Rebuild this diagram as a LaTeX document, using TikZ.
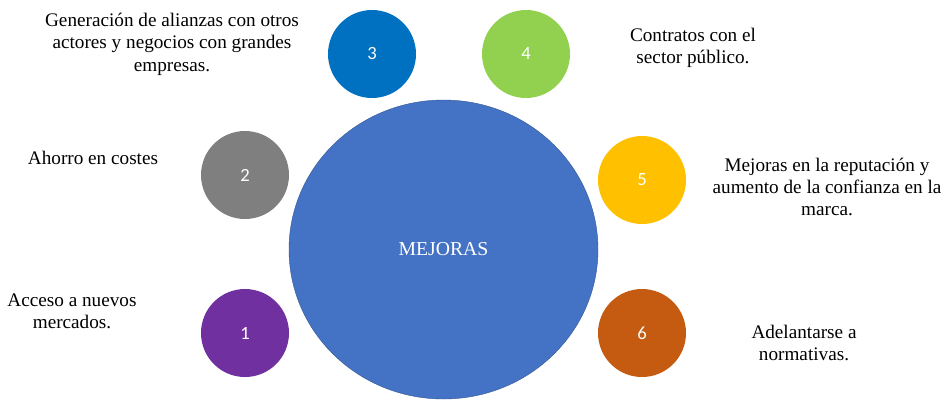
\documentclass[tikz,border=0pt]{standalone}
\usepackage{fontspec}
\setmainfont{Liberation Serif}
\newfontfamily\numfont{Carlito}
\usetikzlibrary{shapes.geometric}
\definecolor{mejblue}{HTML}{4472C4}
\definecolor{cpurple}{HTML}{7030A0}
\definecolor{cgray}{HTML}{7F7F7F}
\definecolor{cblue}{HTML}{0070C0}
\definecolor{cgreen}{HTML}{92D050}
\definecolor{cyellow}{HTML}{FFC000}
\definecolor{corange}{HTML}{C55A11}
\begin{document}
\begin{tikzpicture}[x=0.75pt,y=-0.75pt]

    \tikzset{
      ball/.style={
        circle,
        inner sep=0pt,
        minimum size=66pt,
        text=white,
        font=\numfont\fontsize{14}{16}\selectfont,
      },
      desc/.style={
        align=center,
        inner sep=0pt,
        font=\fontsize{14.4}{16.8}\selectfont,
      },
    }
    \useasboundingbox (0,0) rectangle (952,401);
	\node[ellipse, fill=mejblue, draw=mejblue!75!black, line width=0.3pt, minimum width=231.75pt, minimum height=224.25pt, inner sep=0pt, text=white, font=\fontsize{14.8}{16}\selectfont] (mejoras) at (443.5,249.5) {MEJORAS};
	\node[ball, fill=cpurple] (b1) at (245,333) {1};
	\node[ball, fill=cgray] (b2) at (245,175) {2};
	\node[ball, fill=cblue] (b3) at (372,54) {3};
	\node[ball, fill=cgreen] (b4) at (526,54) {4};
	\node[ball, fill=cyellow] (b5) at (642,180) {5};
	\node[ball, fill=corange] (b6) at (642,333) {6};
	\node[desc] (t1) at (72,311) {Acceso a nuevos\\mercados.};
	\node[desc] (t2) at (93,158) {Ahorro en costes};
	\node[desc] (t3) at (172,44) {Generación de alianzas con otros\\actores y negocios con grandes\\empresas.};
	\node[desc] (t4) at (693,48) {Contratos con el\\sector público.};
	\node[desc] (t5) at (827,187) {Mejoras en la reputación y\\aumento de la confianza en la\\marca.};
	\node[desc] (t6) at (804,343) {Adelantarse a\\normativas.};

\end{tikzpicture}
\end{document}
